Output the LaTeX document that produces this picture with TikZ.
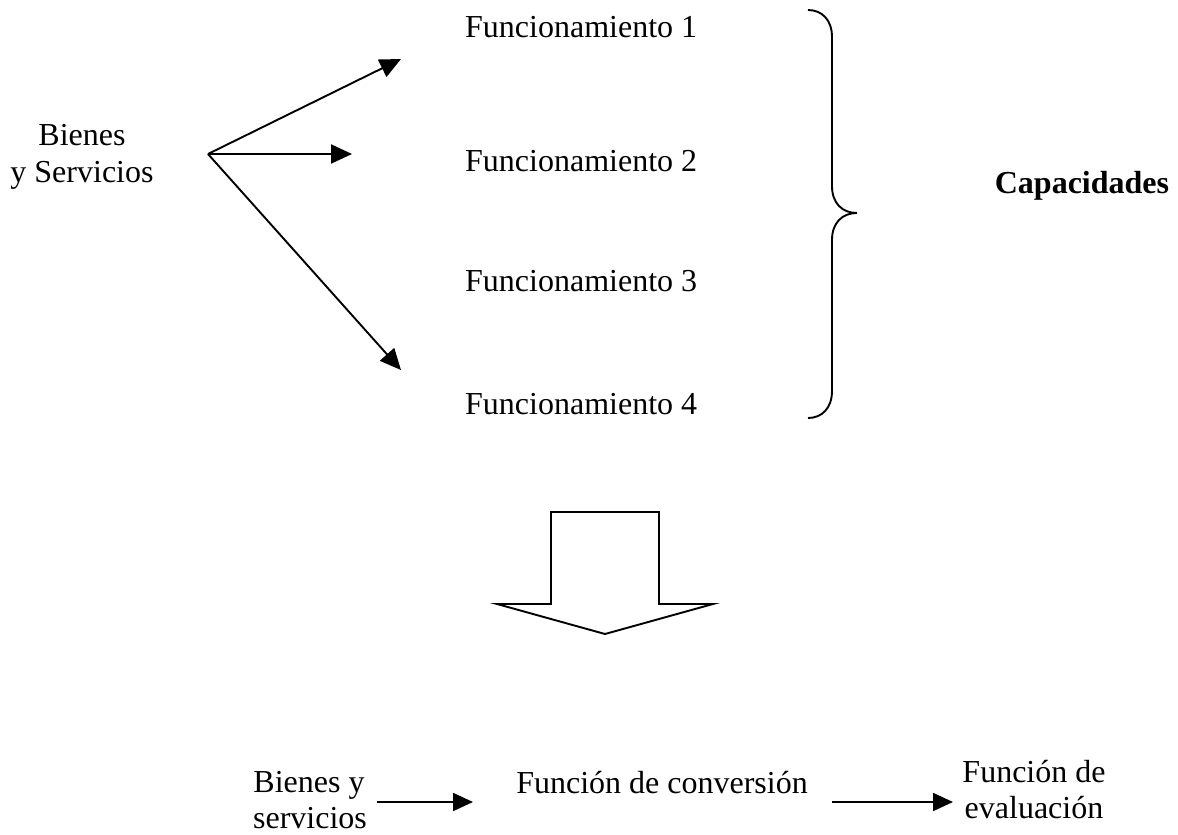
\documentclass[tikz,border=0pt]{standalone}
\usepackage{fontspec}
\setmainfont{Liberation Serif}
\usetikzlibrary{arrows.meta}
\tikzset{
  lbl/.style={font=\fontsize{32}{38}\selectfont, inner sep=0pt, anchor=base},
  lblw/.style={lbl, anchor=base west},
  conn/.style={line width=1.9pt, -{Triangle[length=21pt,width=19pt]}},
  connsmall/.style={line width=1.9pt, -{Triangle[length=20pt,width=18pt]}},
  plain/.style={line width=1.9pt, line join=miter}
}
\begin{document}
\begin{tikzpicture}[x=1pt,y=-1pt]
\useasboundingbox (0,0) rectangle (1178,835);
% left group
\node[lbl] (b1) at (82,145) {Bienes};
\node[lbl] (b2) at (82,182) {y Servicios};
\coordinate (o) at (208,154);
\coordinate (t1) at (401,59);
\coordinate (t2) at (352,154);
\coordinate (t3) at (401,370);
\draw[conn] (o) -- (t1);
\draw[conn] (o) -- (t2);
\draw[conn] (o) -- (t3);
% funcionamientos
\node[lblw] (f1) at (465,37) {Funcionamiento 1};
\node[lblw] (f2) at (465,171) {Funcionamiento 2};
\node[lblw] (f3) at (465,291) {Funcionamiento 3};
\node[lblw] (f4) at (465,414) {Funcionamiento 4};
% brace
\draw[plain] (808,10) .. controls (822,10) and (832,20) .. (832,37)
  -- (832,186) .. controls (832,203) and (842,213) .. (857,213)
  .. controls (842,213) and (832,223) .. (832,240)
  -- (832,391) .. controls (832,408) and (822,418) .. (808,418);
\node[lbl, font=\fontsize{32}{38}\selectfont\bfseries] (cap) at (1082,193) {Capacidades};
% big arrow
\draw[plain] (551,512) -- (659,512) -- (659,604) -- (713,604) -- (605,634)
  -- (497,604) -- (551,604) -- cycle;
% bottom row
\node[lbl] (bs1) at (309,792) {Bienes y};
\node[lbl] (bs2) at (310,828) {servicios};
\node[lbl] (fc) at (662,793) {Función de conversión};
\node[lbl] (fe1) at (1034,782) {Función de};
\node[lbl] (fe2) at (1034,818) {evaluación};
\coordinate (a1s) at (377,802);
\coordinate (a1e) at (473,802);
\coordinate (a2s) at (832,802);
\coordinate (a2e) at (953,802);
\draw[connsmall] (a1s) -- (a1e);
\draw[connsmall] (a2s) -- (a2e);
\end{tikzpicture}
\end{document}
